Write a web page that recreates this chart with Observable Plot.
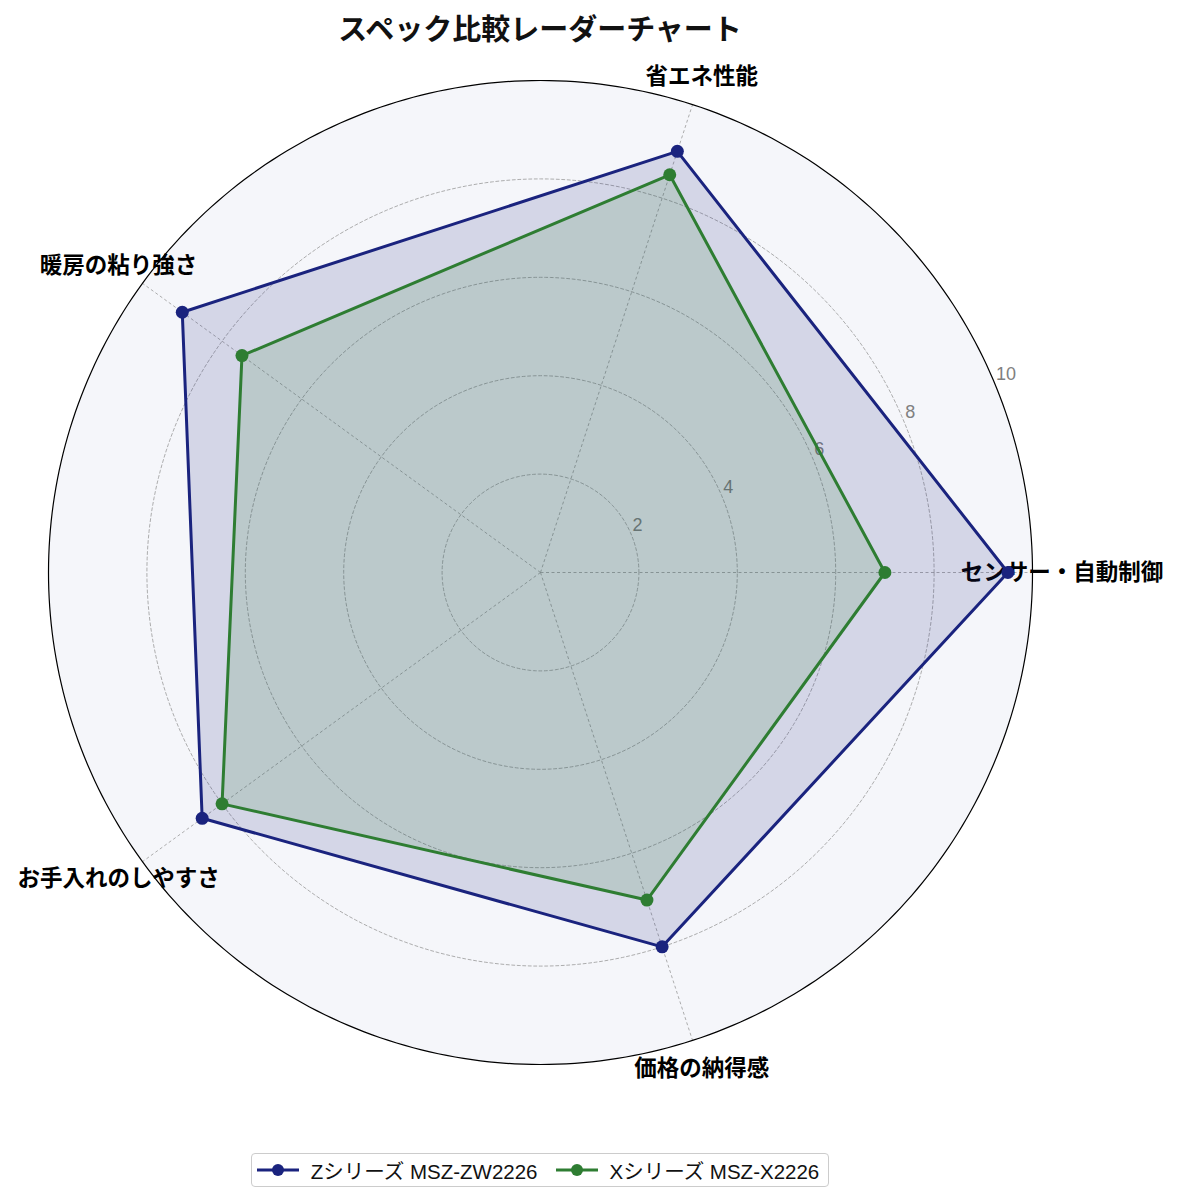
<!DOCTYPE html>
<html><head><meta charset="utf-8">
<script src="https://cdn.jsdelivr.net/npm/d3@7"></script>
<script src="https://cdn.jsdelivr.net/npm/@observablehq/plot@0.6"></script>
<style>
body{margin:0;background:#fff;font-family:"Noto Sans CJK JP","Noto Sans",sans-serif;}
#title{width:1080px;text-align:center;font-size:29px;font-weight:bold;height:50px;line-height:54px;color:#111;}
#chart svg{display:block;}
#legendWrap{width:1080px;display:flex;justify-content:center;margin-top:13px;}
#legend{display:flex;align-items:center;height:32px;border:1px solid #ccc;border-radius:4px;padding:0 9px 0 5px;font-size:20.5px;color:#111;font-family:"Liberation Sans","Noto Sans CJK JP",sans-serif;}
.item{display:flex;align-items:center;margin-right:18px;}
.item:last-child{margin-right:0;}
.item svg{margin-right:12px;}
</style></head><body>
<div id="title">スペック比較レーダーチャート</div>
<div id="chart"></div>
<div id="legendWrap"><div id="legend"></div></div>
<script>
// ---- data ----
const categories = ["センサー・自動制御", "省エネ性能", "暖房の粘り強さ", "お手入れのしやすさ", "価格の納得感"];
const seriesNames = ["Zシリーズ MSZ-ZW2226", "Xシリーズ MSZ-X2226"];
const zValues = [9.5, 9.0, 9.0, 8.5, 8.0];
const xValues = [7.0, 8.5, 7.5, 8.0, 7.0];
const radialTicks = [2, 4, 6, 8, 10];
const seriesColors = ["#1a237e", "#2e7d32"];

// ---- layout ----
const W = 1179, H = 1090, CX = 540, CY = 522, RPX = 492, RMAX = 10;
const U = RPX / RMAX;
const ang = i => i * 2 * Math.PI / categories.length;
const polar = (r, a) => ({x: r * Math.cos(a), y: r * Math.sin(a)});

const ring = (r, key) => d3.range(0, 361).map(d => ({...polar(r, d * Math.PI / 180), key}));
const diskPts = ring(RMAX, "disk");
const gridPts = radialTicks.filter(t => t < RMAX).flatMap(t => ring(t, t));
const spokes = categories.map((c, i) => ({...polar(RMAX, ang(i)), c}));

const rows = (vals, s) => vals.map((v, i) => ({...polar(v, ang(i)), v, s, c: categories[i]}));
const zRows = rows(zValues, seriesNames[0]);
const xRows = rows(xValues, seriesNames[1]);

const labelRows = categories.map((c, i) => ({...polar(10.6, ang(i)), c}));
const tickAng = 22.5 * Math.PI / 180;
const tickRows = radialTicks.map(t => ({...polar(t, tickAng), t}));

const chart = Plot.plot({
  width: W, height: H, margin: 0,
  style: {fontFamily: '"Noto Sans CJK JP","Noto Sans",sans-serif', background: "#fff"},
  x: {type: "linear", domain: [-CX / U, (W - CX) / U], range: [0, W], axis: null},
  y: {type: "linear", domain: [-(H - CY) / U, CY / U], range: [H, 0], axis: null},
  marks: [
    Plot.line(diskPts, {x: "x", y: "y", curve: "linear-closed", fill: "#f5f6fa", stroke: "none"}),
    Plot.line(gridPts, {x: "x", y: "y", z: "key", curve: "linear-closed", stroke: "#999", strokeWidth: 0.8, strokeDasharray: "3,2.5"}),
    Plot.link(spokes, {x1: () => 0, y1: () => 0, x2: "x", y2: "y", stroke: "#999", strokeWidth: 0.8, strokeDasharray: "3,2.5"}),
    Plot.line(diskPts, {x: "x", y: "y", curve: "linear-closed", fill: "none", stroke: "#000", strokeWidth: 1.2}),
    Plot.text(tickRows, {x: "x", y: "y", text: d => String(d.t), textAnchor: "start", dx: 1, dy: -10, fill: "#808080", fontSize: 18, fontFamily: '"Liberation Sans",sans-serif'}),
    Plot.text(labelRows, {x: "x", y: "y", text: "c", textAnchor: "middle", fontSize: 22.5, fontWeight: "bold", fill: "#000"}),
    Plot.line(zRows, {x: "x", y: "y", curve: "linear-closed", fill: seriesColors[0], fillOpacity: 0.15, stroke: seriesColors[0], strokeWidth: 3}),
    Plot.dot(zRows, {x: "x", y: "y", r: 6.5, fill: seriesColors[0], stroke: "none"}),
    Plot.line(xRows, {x: "x", y: "y", curve: "linear-closed", fill: seriesColors[1], fillOpacity: 0.15, stroke: seriesColors[1], strokeWidth: 3}),
    Plot.dot(xRows, {x: "x", y: "y", r: 6.5, fill: seriesColors[1], stroke: "none"})
  ]
});
document.getElementById("chart").appendChild(chart);

// ---- legend ----
const legend = d3.select("#legend");
seriesNames.forEach((name, i) => {
  const item = legend.append("div").attr("class", "item");
  const s = item.append("svg").attr("width", 42).attr("height", 20);
  s.append("line").attr("x1", 0).attr("x2", 42).attr("y1", 10).attr("y2", 10)
    .attr("stroke", seriesColors[i]).attr("stroke-width", 3);
  s.append("circle").attr("cx", 21).attr("cy", 10).attr("r", 6).attr("fill", seriesColors[i]);
  item.append("span").text(name);
});
</script>
</body></html>
